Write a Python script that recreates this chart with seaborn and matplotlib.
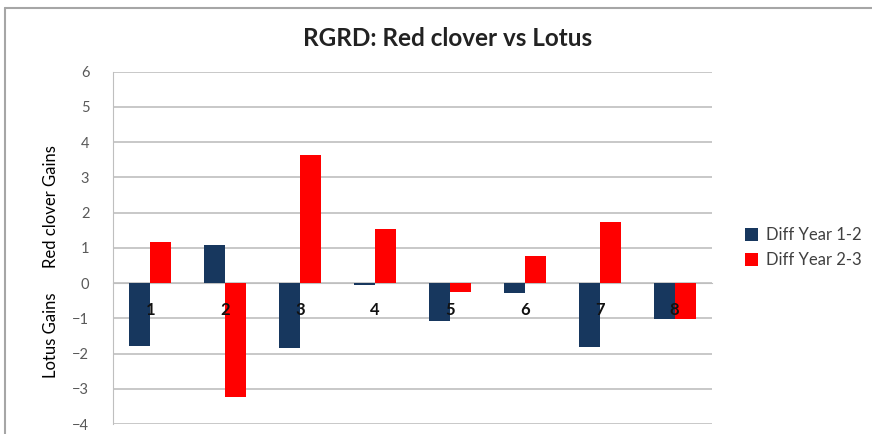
import pandas as pd
import seaborn as sns
import matplotlib.pyplot as plt
from matplotlib.lines import Line2D

# Werte
plots = ['1', '2', '3', '4', '5', '6', '7', '8']
diff_12 = [-1.80, 1.08, -1.84, -0.05, -1.09, -0.27, -1.82, -1.01]
diff_23 = [1.16, -3.24, 3.63, 1.53, -0.25, 0.77, 1.72, -1.01]
series_names = ['Diff Year 1-2', 'Diff Year 2-3']

data = pd.DataFrame({
    'plot': plots * 2,
    'value': diff_12 + diff_23,
    'series': [series_names[0]] * len(plots) + [series_names[1]] * len(plots),
})

sns.set_style('white')
plt.rcParams['font.family'] = ['Lato', 'DejaVu Sans']

fig = plt.figure(figsize=(8.72, 4.34), dpi=100)
ax = fig.add_axes([0.1296, 0.023, 0.687, 0.812])

sns.barplot(data=data, x='plot', y='value', hue='series', order=plots,
            palette=['#17375E', '#FF0000'], width=0.56, linewidth=0,
            saturation=1, ax=ax)

ax.set_ylim(-4, 6)
ax.set_yticks(range(-4, 7))
ax.set_xlim(-0.5, 7.5)
ax.yaxis.grid(True, color='#C4C4C4', linewidth=1.3)
ax.set_axisbelow(True)
# Kategorienbeschriftung soll über den Balken liegen
ax.xaxis.set_zorder(3)

for side in ['top', 'right']:
    ax.spines[side].set_visible(False)
ax.spines['left'].set_color('#BFBFBF')
ax.spines['bottom'].set_position(('data', 0))
ax.spines['bottom'].set_color('#BFBFBF')
ax.spines['bottom'].set_zorder(0.6)

ax.tick_params(axis='y', length=5, color='#BFBFBF', labelsize=10.5,
               labelcolor='#595959', pad=12)
ax.tick_params(axis='x', which='major', length=0, pad=14, labelsize=12,
               labelcolor='#111111')
for lbl in ax.get_xticklabels():
    lbl.set_fontweight('bold')
ax.set_xticks([i + 0.5 for i in range(len(plots))], minor=True)
ax.tick_params(axis='x', which='minor', direction='in', length=3,
               color='#BFBFBF')
ax.set_xlabel('')
ax.set_ylabel('')

ax.legend(loc='center left', bbox_to_anchor=(1.03, 0.5), frameon=False,
          fontsize=12, handlelength=0.75, handleheight=0.75,
          labelcolor='#404040', handletextpad=0.5, labelspacing=0.55)

fig.text(0.513, 0.912, 'RGRD: Red clover vs Lotus', ha='center',
         va='center', fontsize=17.5, fontweight='bold', color='#222222')
fig.text(0.058, 0.523, 'Red clover Gains', rotation=90, ha='center',
         va='center', fontsize=12, color='#000000')
fig.text(0.058, 0.228, 'Lotus Gains', rotation=90, ha='center',
         va='center', fontsize=12, color='#000000')

# Rahmen des Diagrammbereichs
fig.add_artist(Line2D([0.006, 1.0], [0.981, 0.981], color='#A6A6A6', lw=1.5))
fig.add_artist(Line2D([0.006, 0.006], [0.0, 0.981], color='#A6A6A6', lw=1.5))

fig.savefig('out.png', dpi=100)
